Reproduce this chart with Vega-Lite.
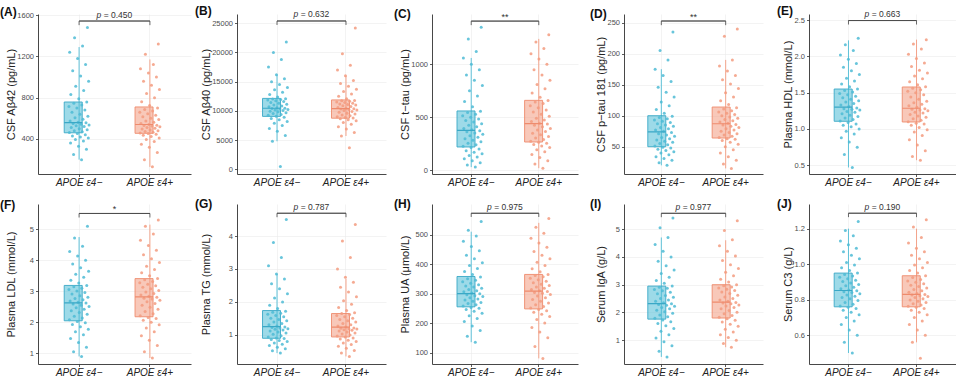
{
"$schema":"https://vega.github.io/schema/vega-lite/v6.json",
"background":"white",
"padding":{"left":0,"top":5,"right":0,"bottom":0},
"columns":5,"align":"each","bounds":"flush","spacing":{"row":30,"column":46},
"datasets":{
"A":[{"g":"n","v":200},{"g":"n","v":250},{"g":"n","v":300},{"g":"n","v":330},{"g":"n","v":360},{"g":"n","v":380},{"g":"n","v":395},{"g":"n","v":410},{"g":"n","v":420},{"g":"n","v":430},{"g":"n","v":440},{"g":"n","v":452},{"g":"n","v":462},{"g":"n","v":470},{"g":"n","v":480},{"g":"n","v":490},{"g":"n","v":500},{"g":"n","v":510},{"g":"n","v":520},{"g":"n","v":528},{"g":"n","v":535},{"g":"n","v":543},{"g":"n","v":550},{"g":"n","v":556},{"g":"n","v":562},{"g":"n","v":575},{"g":"n","v":590},{"g":"n","v":605},{"g":"n","v":620},{"g":"n","v":640},{"g":"n","v":660},{"g":"n","v":680},{"g":"n","v":700},{"g":"n","v":715},{"g":"n","v":730},{"g":"n","v":745},{"g":"n","v":758},{"g":"n","v":790},{"g":"n","v":830},{"g":"n","v":870},{"g":"n","v":910},{"g":"n","v":960},{"g":"n","v":1010},{"g":"n","v":1060},{"g":"n","v":1120},{"g":"n","v":1180},{"g":"n","v":1240},{"g":"n","v":1300},{"g":"n","v":1380},{"g":"n","v":1480},
{"g":"p","v":130},{"g":"p","v":200},{"g":"p","v":270},{"g":"p","v":320},{"g":"p","v":350},{"g":"p","v":375},{"g":"p","v":395},{"g":"p","v":410},{"g":"p","v":425},{"g":"p","v":435},{"g":"p","v":445},{"g":"p","v":452},{"g":"p","v":458},{"g":"p","v":465},{"g":"p","v":472},{"g":"p","v":480},{"g":"p","v":488},{"g":"p","v":496},{"g":"p","v":504},{"g":"p","v":512},{"g":"p","v":519},{"g":"p","v":525},{"g":"p","v":530},{"g":"p","v":534},{"g":"p","v":540},{"g":"p","v":550},{"g":"p","v":562},{"g":"p","v":575},{"g":"p","v":588},{"g":"p","v":600},{"g":"p","v":615},{"g":"p","v":630},{"g":"p","v":645},{"g":"p","v":660},{"g":"p","v":672},{"g":"p","v":686},{"g":"p","v":700},{"g":"p","v":725},{"g":"p","v":760},{"g":"p","v":800},{"g":"p","v":840},{"g":"p","v":880},{"g":"p","v":920},{"g":"p","v":960},{"g":"p","v":1000},{"g":"p","v":1040},{"g":"p","v":1080},{"g":"p","v":1120},{"g":"p","v":1220},{"g":"p","v":1320}],
"B":[{"g":"n","v":500},{"g":"n","v":4800},{"g":"n","v":5800},{"g":"n","v":6500},{"g":"n","v":7000},{"g":"n","v":7500},{"g":"n","v":7900},{"g":"n","v":8200},{"g":"n","v":8500},{"g":"n","v":8700},{"g":"n","v":8900},{"g":"n","v":9100},{"g":"n","v":9250},{"g":"n","v":9400},{"g":"n","v":9550},{"g":"n","v":9700},{"g":"n","v":9850},{"g":"n","v":9950},{"g":"n","v":10050},{"g":"n","v":10150},{"g":"n","v":10250},{"g":"n","v":10330},{"g":"n","v":10400},{"g":"n","v":10450},{"g":"n","v":10550},{"g":"n","v":10700},{"g":"n","v":10850},{"g":"n","v":11000},{"g":"n","v":11150},{"g":"n","v":11300},{"g":"n","v":11450},{"g":"n","v":11600},{"g":"n","v":11750},{"g":"n","v":11850},{"g":"n","v":11950},{"g":"n","v":12050},{"g":"n","v":12100},{"g":"n","v":12400},{"g":"n","v":12800},{"g":"n","v":13200},{"g":"n","v":13600},{"g":"n","v":14000},{"g":"n","v":14500},{"g":"n","v":15000},{"g":"n","v":15500},{"g":"n","v":16200},{"g":"n","v":17500},{"g":"n","v":18800},{"g":"n","v":20000},{"g":"n","v":21800},
{"g":"p","v":3700},{"g":"p","v":5700},{"g":"p","v":6300},{"g":"p","v":6900},{"g":"p","v":7300},{"g":"p","v":7700},{"g":"p","v":8000},{"g":"p","v":8300},{"g":"p","v":8500},{"g":"p","v":8650},{"g":"p","v":8780},{"g":"p","v":8880},{"g":"p","v":9000},{"g":"p","v":9150},{"g":"p","v":9300},{"g":"p","v":9450},{"g":"p","v":9600},{"g":"p","v":9750},{"g":"p","v":9900},{"g":"p","v":10050},{"g":"p","v":10150},{"g":"p","v":10250},{"g":"p","v":10320},{"g":"p","v":10380},{"g":"p","v":10450},{"g":"p","v":10600},{"g":"p","v":10750},{"g":"p","v":10900},{"g":"p","v":11000},{"g":"p","v":11100},{"g":"p","v":11200},{"g":"p","v":11300},{"g":"p","v":11420},{"g":"p","v":11530},{"g":"p","v":11640},{"g":"p","v":11720},{"g":"p","v":11800},{"g":"p","v":12100},{"g":"p","v":12500},{"g":"p","v":12900},{"g":"p","v":13300},{"g":"p","v":13700},{"g":"p","v":14200},{"g":"p","v":14700},{"g":"p","v":15200},{"g":"p","v":16000},{"g":"p","v":17000},{"g":"p","v":17800},{"g":"p","v":19800},{"g":"p","v":24200}],
"C":[{"g":"n","v":30},{"g":"n","v":50},{"g":"n","v":70},{"g":"n","v":90},{"g":"n","v":110},{"g":"n","v":125},{"g":"n","v":140},{"g":"n","v":155},{"g":"n","v":170},{"g":"n","v":185},{"g":"n","v":200},{"g":"n","v":215},{"g":"n","v":228},{"g":"n","v":242},{"g":"n","v":256},{"g":"n","v":270},{"g":"n","v":284},{"g":"n","v":298},{"g":"n","v":312},{"g":"n","v":326},{"g":"n","v":340},{"g":"n","v":352},{"g":"n","v":364},{"g":"n","v":374},{"g":"n","v":382},{"g":"n","v":395},{"g":"n","v":410},{"g":"n","v":425},{"g":"n","v":440},{"g":"n","v":455},{"g":"n","v":470},{"g":"n","v":485},{"g":"n","v":500},{"g":"n","v":515},{"g":"n","v":530},{"g":"n","v":545},{"g":"n","v":558},{"g":"n","v":600},{"g":"n","v":650},{"g":"n","v":700},{"g":"n","v":750},{"g":"n","v":800},{"g":"n","v":850},{"g":"n","v":900},{"g":"n","v":950},{"g":"n","v":1000},{"g":"n","v":1060},{"g":"n","v":1120},{"g":"n","v":1240},{"g":"n","v":1350},
{"g":"p","v":20},{"g":"p","v":60},{"g":"p","v":90},{"g":"p","v":120},{"g":"p","v":150},{"g":"p","v":175},{"g":"p","v":195},{"g":"p","v":215},{"g":"p","v":230},{"g":"p","v":243},{"g":"p","v":255},{"g":"p","v":265},{"g":"p","v":275},{"g":"p","v":290},{"g":"p","v":305},{"g":"p","v":320},{"g":"p","v":335},{"g":"p","v":350},{"g":"p","v":365},{"g":"p","v":380},{"g":"p","v":395},{"g":"p","v":410},{"g":"p","v":425},{"g":"p","v":437},{"g":"p","v":445},{"g":"p","v":460},{"g":"p","v":475},{"g":"p","v":490},{"g":"p","v":510},{"g":"p","v":530},{"g":"p","v":550},{"g":"p","v":570},{"g":"p","v":590},{"g":"p","v":610},{"g":"p","v":630},{"g":"p","v":645},{"g":"p","v":658},{"g":"p","v":690},{"g":"p","v":730},{"g":"p","v":770},{"g":"p","v":810},{"g":"p","v":850},{"g":"p","v":900},{"g":"p","v":950},{"g":"p","v":1000},{"g":"p","v":1050},{"g":"p","v":1100},{"g":"p","v":1150},{"g":"p","v":1210},{"g":"p","v":1280}],
"D":[{"g":"n","v":20},{"g":"n","v":24},{"g":"n","v":28},{"g":"n","v":31},{"g":"n","v":34},{"g":"n","v":37},{"g":"n","v":40},{"g":"n","v":42},{"g":"n","v":44},{"g":"n","v":46},{"g":"n","v":48},{"g":"n","v":49},{"g":"n","v":51},{"g":"n","v":53},{"g":"n","v":55},{"g":"n","v":57},{"g":"n","v":59},{"g":"n","v":61},{"g":"n","v":63},{"g":"n","v":65},{"g":"n","v":67},{"g":"n","v":69},{"g":"n","v":71},{"g":"n","v":73},{"g":"n","v":75},{"g":"n","v":77},{"g":"n","v":79},{"g":"n","v":81},{"g":"n","v":83},{"g":"n","v":85},{"g":"n","v":87},{"g":"n","v":89},{"g":"n","v":91},{"g":"n","v":93},{"g":"n","v":95},{"g":"n","v":97},{"g":"n","v":99},{"g":"n","v":104},{"g":"n","v":110},{"g":"n","v":116},{"g":"n","v":122},{"g":"n","v":130},{"g":"n","v":138},{"g":"n","v":146},{"g":"n","v":155},{"g":"n","v":165},{"g":"n","v":175},{"g":"n","v":190},{"g":"n","v":205},{"g":"n","v":235},
{"g":"p","v":15},{"g":"p","v":22},{"g":"p","v":28},{"g":"p","v":34},{"g":"p","v":40},{"g":"p","v":45},{"g":"p","v":50},{"g":"p","v":54},{"g":"p","v":57},{"g":"p","v":60},{"g":"p","v":62},{"g":"p","v":63},{"g":"p","v":65},{"g":"p","v":67},{"g":"p","v":69},{"g":"p","v":71},{"g":"p","v":73},{"g":"p","v":75},{"g":"p","v":77},{"g":"p","v":79},{"g":"p","v":81},{"g":"p","v":83},{"g":"p","v":85},{"g":"p","v":86},{"g":"p","v":88},{"g":"p","v":90},{"g":"p","v":92},{"g":"p","v":94},{"g":"p","v":96},{"g":"p","v":98},{"g":"p","v":100},{"g":"p","v":102},{"g":"p","v":104},{"g":"p","v":106},{"g":"p","v":108},{"g":"p","v":111},{"g":"p","v":113},{"g":"p","v":118},{"g":"p","v":124},{"g":"p","v":130},{"g":"p","v":137},{"g":"p","v":144},{"g":"p","v":151},{"g":"p","v":158},{"g":"p","v":165},{"g":"p","v":172},{"g":"p","v":180},{"g":"p","v":190},{"g":"p","v":228},{"g":"p","v":240}],
"E":[{"g":"n","v":0.47},{"g":"n","v":0.65},{"g":"n","v":0.75},{"g":"n","v":0.82},{"g":"n","v":0.88},{"g":"n","v":0.93},{"g":"n","v":0.97},{"g":"n","v":1.0},{"g":"n","v":1.03},{"g":"n","v":1.05},{"g":"n","v":1.07},{"g":"n","v":1.09},{"g":"n","v":1.11},{"g":"n","v":1.13},{"g":"n","v":1.15},{"g":"n","v":1.17},{"g":"n","v":1.19},{"g":"n","v":1.21},{"g":"n","v":1.23},{"g":"n","v":1.24},{"g":"n","v":1.26},{"g":"n","v":1.27},{"g":"n","v":1.28},{"g":"n","v":1.29},{"g":"n","v":1.31},{"g":"n","v":1.33},{"g":"n","v":1.35},{"g":"n","v":1.37},{"g":"n","v":1.39},{"g":"n","v":1.41},{"g":"n","v":1.43},{"g":"n","v":1.45},{"g":"n","v":1.47},{"g":"n","v":1.49},{"g":"n","v":1.51},{"g":"n","v":1.53},{"g":"n","v":1.55},{"g":"n","v":1.58},{"g":"n","v":1.62},{"g":"n","v":1.66},{"g":"n","v":1.7},{"g":"n","v":1.75},{"g":"n","v":1.8},{"g":"n","v":1.85},{"g":"n","v":1.9},{"g":"n","v":1.96},{"g":"n","v":2.02},{"g":"n","v":2.08},{"g":"n","v":2.16},{"g":"n","v":2.25},
{"g":"p","v":0.57},{"g":"p","v":0.62},{"g":"p","v":0.7},{"g":"p","v":0.78},{"g":"p","v":0.85},{"g":"p","v":0.91},{"g":"p","v":0.96},{"g":"p","v":0.99},{"g":"p","v":1.02},{"g":"p","v":1.05},{"g":"p","v":1.07},{"g":"p","v":1.08},{"g":"p","v":1.1},{"g":"p","v":1.12},{"g":"p","v":1.14},{"g":"p","v":1.16},{"g":"p","v":1.18},{"g":"p","v":1.2},{"g":"p","v":1.22},{"g":"p","v":1.23},{"g":"p","v":1.25},{"g":"p","v":1.26},{"g":"p","v":1.27},{"g":"p","v":1.28},{"g":"p","v":1.3},{"g":"p","v":1.32},{"g":"p","v":1.34},{"g":"p","v":1.36},{"g":"p","v":1.38},{"g":"p","v":1.41},{"g":"p","v":1.44},{"g":"p","v":1.47},{"g":"p","v":1.5},{"g":"p","v":1.52},{"g":"p","v":1.54},{"g":"p","v":1.56},{"g":"p","v":1.58},{"g":"p","v":1.61},{"g":"p","v":1.65},{"g":"p","v":1.69},{"g":"p","v":1.73},{"g":"p","v":1.77},{"g":"p","v":1.81},{"g":"p","v":1.86},{"g":"p","v":1.91},{"g":"p","v":1.97},{"g":"p","v":2.03},{"g":"p","v":2.1},{"g":"p","v":2.17},{"g":"p","v":2.23}],
"F":[{"g":"n","v":0.9},{"g":"n","v":1.05},{"g":"n","v":1.2},{"g":"n","v":1.35},{"g":"n","v":1.48},{"g":"n","v":1.6},{"g":"n","v":1.7},{"g":"n","v":1.78},{"g":"n","v":1.86},{"g":"n","v":1.93},{"g":"n","v":1.99},{"g":"n","v":2.03},{"g":"n","v":2.08},{"g":"n","v":2.14},{"g":"n","v":2.2},{"g":"n","v":2.26},{"g":"n","v":2.32},{"g":"n","v":2.37},{"g":"n","v":2.42},{"g":"n","v":2.47},{"g":"n","v":2.51},{"g":"n","v":2.55},{"g":"n","v":2.59},{"g":"n","v":2.62},{"g":"n","v":2.65},{"g":"n","v":2.69},{"g":"n","v":2.73},{"g":"n","v":2.77},{"g":"n","v":2.81},{"g":"n","v":2.86},{"g":"n","v":2.91},{"g":"n","v":2.96},{"g":"n","v":3.01},{"g":"n","v":3.06},{"g":"n","v":3.1},{"g":"n","v":3.15},{"g":"n","v":3.19},{"g":"n","v":3.27},{"g":"n","v":3.36},{"g":"n","v":3.45},{"g":"n","v":3.55},{"g":"n","v":3.65},{"g":"n","v":3.76},{"g":"n","v":3.88},{"g":"n","v":4.0},{"g":"n","v":4.14},{"g":"n","v":4.28},{"g":"n","v":4.45},{"g":"n","v":4.72},{"g":"n","v":5.1},
{"g":"p","v":0.85},{"g":"p","v":1.05},{"g":"p","v":1.25},{"g":"p","v":1.42},{"g":"p","v":1.57},{"g":"p","v":1.7},{"g":"p","v":1.82},{"g":"p","v":1.92},{"g":"p","v":2.0},{"g":"p","v":2.07},{"g":"p","v":2.12},{"g":"p","v":2.16},{"g":"p","v":2.21},{"g":"p","v":2.28},{"g":"p","v":2.35},{"g":"p","v":2.42},{"g":"p","v":2.49},{"g":"p","v":2.55},{"g":"p","v":2.61},{"g":"p","v":2.66},{"g":"p","v":2.71},{"g":"p","v":2.75},{"g":"p","v":2.78},{"g":"p","v":2.81},{"g":"p","v":2.84},{"g":"p","v":2.88},{"g":"p","v":2.93},{"g":"p","v":2.98},{"g":"p","v":3.03},{"g":"p","v":3.08},{"g":"p","v":3.13},{"g":"p","v":3.18},{"g":"p","v":3.23},{"g":"p","v":3.28},{"g":"p","v":3.32},{"g":"p","v":3.37},{"g":"p","v":3.41},{"g":"p","v":3.5},{"g":"p","v":3.6},{"g":"p","v":3.7},{"g":"p","v":3.81},{"g":"p","v":3.93},{"g":"p","v":4.05},{"g":"p","v":4.18},{"g":"p","v":4.32},{"g":"p","v":4.48},{"g":"p","v":4.65},{"g":"p","v":4.85},{"g":"p","v":5.1},{"g":"p","v":5.3}],
"G":[{"g":"n","v":0.45},{"g":"n","v":0.52},{"g":"n","v":0.58},{"g":"n","v":0.63},{"g":"n","v":0.68},{"g":"n","v":0.72},{"g":"n","v":0.76},{"g":"n","v":0.8},{"g":"n","v":0.83},{"g":"n","v":0.86},{"g":"n","v":0.89},{"g":"n","v":0.91},{"g":"n","v":0.94},{"g":"n","v":0.98},{"g":"n","v":1.02},{"g":"n","v":1.06},{"g":"n","v":1.09},{"g":"n","v":1.12},{"g":"n","v":1.15},{"g":"n","v":1.17},{"g":"n","v":1.19},{"g":"n","v":1.21},{"g":"n","v":1.23},{"g":"n","v":1.24},{"g":"n","v":1.27},{"g":"n","v":1.31},{"g":"n","v":1.35},{"g":"n","v":1.39},{"g":"n","v":1.43},{"g":"n","v":1.47},{"g":"n","v":1.51},{"g":"n","v":1.55},{"g":"n","v":1.59},{"g":"n","v":1.63},{"g":"n","v":1.66},{"g":"n","v":1.69},{"g":"n","v":1.72},{"g":"n","v":1.8},{"g":"n","v":1.9},{"g":"n","v":2.0},{"g":"n","v":2.12},{"g":"n","v":2.25},{"g":"n","v":2.4},{"g":"n","v":2.55},{"g":"n","v":2.7},{"g":"n","v":2.85},{"g":"n","v":3.1},{"g":"n","v":3.35},{"g":"n","v":3.8},{"g":"n","v":4.5},
{"g":"p","v":0.35},{"g":"p","v":0.45},{"g":"p","v":0.53},{"g":"p","v":0.6},{"g":"p","v":0.66},{"g":"p","v":0.71},{"g":"p","v":0.76},{"g":"p","v":0.8},{"g":"p","v":0.84},{"g":"p","v":0.88},{"g":"p","v":0.91},{"g":"p","v":0.94},{"g":"p","v":0.97},{"g":"p","v":1.0},{"g":"p","v":1.03},{"g":"p","v":1.06},{"g":"p","v":1.09},{"g":"p","v":1.12},{"g":"p","v":1.14},{"g":"p","v":1.16},{"g":"p","v":1.18},{"g":"p","v":1.19},{"g":"p","v":1.2},{"g":"p","v":1.21},{"g":"p","v":1.24},{"g":"p","v":1.27},{"g":"p","v":1.31},{"g":"p","v":1.35},{"g":"p","v":1.39},{"g":"p","v":1.43},{"g":"p","v":1.47},{"g":"p","v":1.51},{"g":"p","v":1.55},{"g":"p","v":1.59},{"g":"p","v":1.62},{"g":"p","v":1.65},{"g":"p","v":1.67},{"g":"p","v":1.74},{"g":"p","v":1.83},{"g":"p","v":1.93},{"g":"p","v":2.04},{"g":"p","v":2.16},{"g":"p","v":2.3},{"g":"p","v":2.45},{"g":"p","v":2.6},{"g":"p","v":2.75},{"g":"p","v":3.0},{"g":"p","v":3.35},{"g":"p","v":3.85},{"g":"p","v":4.35}],
"H":[{"g":"n","v":135},{"g":"n","v":155},{"g":"n","v":175},{"g":"n","v":190},{"g":"n","v":205},{"g":"n","v":215},{"g":"n","v":225},{"g":"n","v":233},{"g":"n","v":240},{"g":"n","v":246},{"g":"n","v":250},{"g":"n","v":253},{"g":"n","v":258},{"g":"n","v":262},{"g":"n","v":266},{"g":"n","v":270},{"g":"n","v":274},{"g":"n","v":278},{"g":"n","v":282},{"g":"n","v":286},{"g":"n","v":290},{"g":"n","v":293},{"g":"n","v":296},{"g":"n","v":299},{"g":"n","v":302},{"g":"n","v":306},{"g":"n","v":310},{"g":"n","v":314},{"g":"n","v":318},{"g":"n","v":322},{"g":"n","v":326},{"g":"n","v":330},{"g":"n","v":335},{"g":"n","v":340},{"g":"n","v":345},{"g":"n","v":350},{"g":"n","v":356},{"g":"n","v":365},{"g":"n","v":375},{"g":"n","v":385},{"g":"n","v":395},{"g":"n","v":405},{"g":"n","v":418},{"g":"n","v":430},{"g":"n","v":445},{"g":"n","v":460},{"g":"n","v":478},{"g":"n","v":495},{"g":"n","v":515},{"g":"n","v":545},
{"g":"p","v":80},{"g":"p","v":120},{"g":"p","v":150},{"g":"p","v":170},{"g":"p","v":185},{"g":"p","v":200},{"g":"p","v":212},{"g":"p","v":222},{"g":"p","v":230},{"g":"p","v":237},{"g":"p","v":242},{"g":"p","v":246},{"g":"p","v":251},{"g":"p","v":256},{"g":"p","v":262},{"g":"p","v":268},{"g":"p","v":274},{"g":"p","v":280},{"g":"p","v":286},{"g":"p","v":292},{"g":"p","v":297},{"g":"p","v":301},{"g":"p","v":304},{"g":"p","v":307},{"g":"p","v":310},{"g":"p","v":314},{"g":"p","v":318},{"g":"p","v":322},{"g":"p","v":327},{"g":"p","v":332},{"g":"p","v":337},{"g":"p","v":342},{"g":"p","v":347},{"g":"p","v":352},{"g":"p","v":357},{"g":"p","v":361},{"g":"p","v":365},{"g":"p","v":374},{"g":"p","v":384},{"g":"p","v":395},{"g":"p","v":406},{"g":"p","v":418},{"g":"p","v":430},{"g":"p","v":443},{"g":"p","v":457},{"g":"p","v":472},{"g":"p","v":488},{"g":"p","v":505},{"g":"p","v":525},{"g":"p","v":555}],
"I":[{"g":"n","v":0.4},{"g":"n","v":0.6},{"g":"n","v":0.8},{"g":"n","v":0.95},{"g":"n","v":1.08},{"g":"n","v":1.2},{"g":"n","v":1.32},{"g":"n","v":1.42},{"g":"n","v":1.52},{"g":"n","v":1.6},{"g":"n","v":1.67},{"g":"n","v":1.73},{"g":"n","v":1.79},{"g":"n","v":1.85},{"g":"n","v":1.91},{"g":"n","v":1.97},{"g":"n","v":2.03},{"g":"n","v":2.08},{"g":"n","v":2.13},{"g":"n","v":2.18},{"g":"n","v":2.22},{"g":"n","v":2.26},{"g":"n","v":2.29},{"g":"n","v":2.31},{"g":"n","v":2.35},{"g":"n","v":2.4},{"g":"n","v":2.45},{"g":"n","v":2.5},{"g":"n","v":2.55},{"g":"n","v":2.61},{"g":"n","v":2.67},{"g":"n","v":2.73},{"g":"n","v":2.78},{"g":"n","v":2.83},{"g":"n","v":2.87},{"g":"n","v":2.91},{"g":"n","v":2.95},{"g":"n","v":3.05},{"g":"n","v":3.15},{"g":"n","v":3.27},{"g":"n","v":3.4},{"g":"n","v":3.53},{"g":"n","v":3.68},{"g":"n","v":3.84},{"g":"n","v":4.0},{"g":"n","v":4.2},{"g":"n","v":4.45},{"g":"n","v":4.7},{"g":"n","v":5.05},{"g":"n","v":5.4},
{"g":"p","v":0.75},{"g":"p","v":0.88},{"g":"p","v":1.0},{"g":"p","v":1.1},{"g":"p","v":1.2},{"g":"p","v":1.3},{"g":"p","v":1.4},{"g":"p","v":1.5},{"g":"p","v":1.58},{"g":"p","v":1.66},{"g":"p","v":1.72},{"g":"p","v":1.77},{"g":"p","v":1.83},{"g":"p","v":1.89},{"g":"p","v":1.95},{"g":"p","v":2.01},{"g":"p","v":2.07},{"g":"p","v":2.13},{"g":"p","v":2.18},{"g":"p","v":2.23},{"g":"p","v":2.27},{"g":"p","v":2.31},{"g":"p","v":2.34},{"g":"p","v":2.36},{"g":"p","v":2.4},{"g":"p","v":2.45},{"g":"p","v":2.5},{"g":"p","v":2.56},{"g":"p","v":2.62},{"g":"p","v":2.68},{"g":"p","v":2.74},{"g":"p","v":2.79},{"g":"p","v":2.84},{"g":"p","v":2.88},{"g":"p","v":2.92},{"g":"p","v":2.96},{"g":"p","v":3.0},{"g":"p","v":3.1},{"g":"p","v":3.2},{"g":"p","v":3.32},{"g":"p","v":3.45},{"g":"p","v":3.58},{"g":"p","v":3.72},{"g":"p","v":3.87},{"g":"p","v":4.03},{"g":"p","v":4.2},{"g":"p","v":4.4},{"g":"p","v":4.62},{"g":"p","v":4.95},{"g":"p","v":5.3}],
"J":[{"g":"n","v":0.5},{"g":"n","v":0.56},{"g":"n","v":0.6},{"g":"n","v":0.63},{"g":"n","v":0.66},{"g":"n","v":0.68},{"g":"n","v":0.7},{"g":"n","v":0.715},{"g":"n","v":0.73},{"g":"n","v":0.74},{"g":"n","v":0.75},{"g":"n","v":0.758},{"g":"n","v":0.765},{"g":"n","v":0.775},{"g":"n","v":0.785},{"g":"n","v":0.795},{"g":"n","v":0.805},{"g":"n","v":0.813},{"g":"n","v":0.82},{"g":"n","v":0.827},{"g":"n","v":0.834},{"g":"n","v":0.84},{"g":"n","v":0.845},{"g":"n","v":0.85},{"g":"n","v":0.855},{"g":"n","v":0.862},{"g":"n","v":0.87},{"g":"n","v":0.878},{"g":"n","v":0.886},{"g":"n","v":0.894},{"g":"n","v":0.902},{"g":"n","v":0.91},{"g":"n","v":0.918},{"g":"n","v":0.926},{"g":"n","v":0.934},{"g":"n","v":0.942},{"g":"n","v":0.95},{"g":"n","v":0.965},{"g":"n","v":0.98},{"g":"n","v":0.995},{"g":"n","v":1.01},{"g":"n","v":1.03},{"g":"n","v":1.05},{"g":"n","v":1.07},{"g":"n","v":1.09},{"g":"n","v":1.11},{"g":"n","v":1.13},{"g":"n","v":1.16},{"g":"n","v":1.19},{"g":"n","v":1.24},
{"g":"p","v":0.47},{"g":"p","v":0.56},{"g":"p","v":0.6},{"g":"p","v":0.63},{"g":"p","v":0.66},{"g":"p","v":0.68},{"g":"p","v":0.7},{"g":"p","v":0.715},{"g":"p","v":0.73},{"g":"p","v":0.74},{"g":"p","v":0.75},{"g":"p","v":0.757},{"g":"p","v":0.763},{"g":"p","v":0.77},{"g":"p","v":0.777},{"g":"p","v":0.784},{"g":"p","v":0.791},{"g":"p","v":0.798},{"g":"p","v":0.805},{"g":"p","v":0.812},{"g":"p","v":0.818},{"g":"p","v":0.823},{"g":"p","v":0.827},{"g":"p","v":0.83},{"g":"p","v":0.835},{"g":"p","v":0.842},{"g":"p","v":0.85},{"g":"p","v":0.858},{"g":"p","v":0.866},{"g":"p","v":0.874},{"g":"p","v":0.882},{"g":"p","v":0.89},{"g":"p","v":0.898},{"g":"p","v":0.906},{"g":"p","v":0.914},{"g":"p","v":0.925},{"g":"p","v":0.935},{"g":"p","v":0.95},{"g":"p","v":0.965},{"g":"p","v":0.98},{"g":"p","v":0.995},{"g":"p","v":1.01},{"g":"p","v":1.03},{"g":"p","v":1.05},{"g":"p","v":1.07},{"g":"p","v":1.09},{"g":"p","v":1.12},{"g":"p","v":1.15},{"g":"p","v":1.21},{"g":"p","v":1.25}],
"S":[{"k":"A","g":"n","lo":200,"q1":460,"med":558,"q3":758,"hi":1290},{"k":"A","g":"p","lo":130,"q1":455,"med":540,"q3":710,"hi":1170},
{"k":"B","g":"n","lo":4800,"q1":9060,"med":10450,"q3":12140,"hi":16200},{"k":"B","g":"p","lo":5700,"q1":8750,"med":10390,"q3":11880,"hi":16000},
{"k":"C","g":"n","lo":30,"q1":220,"med":377,"q3":560,"hi":1060},{"k":"C","g":"p","lo":20,"q1":267,"med":440,"q3":660,"hi":1240},
{"k":"D","g":"n","lo":20,"q1":50,"med":74,"q3":100,"hi":175},{"k":"D","g":"p","lo":15,"q1":64,"med":87,"q3":114,"hi":190},
{"k":"E","g":"n","lo":0.47,"q1":1.106,"med":1.3,"q3":1.55,"hi":2.22},{"k":"E","g":"p","lo":0.57,"q1":1.096,"med":1.285,"q3":1.578,"hi":2.23},
{"k":"F","g":"n","lo":0.9,"q1":2.05,"med":2.63,"q3":3.19,"hi":4.75},{"k":"F","g":"p","lo":0.85,"q1":2.18,"med":2.82,"q3":3.41,"hi":5.15},
{"k":"G","g":"n","lo":0.45,"q1":0.9,"med":1.25,"q3":1.74,"hi":2.85},{"k":"G","g":"p","lo":0.35,"q1":0.94,"med":1.24,"q3":1.65,"hi":2.7},
{"k":"H","g":"n","lo":135,"q1":255,"med":300,"q3":358,"hi":510},{"k":"H","g":"p","lo":80,"q1":248,"med":308,"q3":365,"hi":540},
{"k":"I","g":"n","lo":0.4,"q1":1.76,"med":2.32,"q3":2.95,"hi":4.7},{"k":"I","g":"p","lo":0.75,"q1":1.8,"med":2.37,"q3":3.0,"hi":4.6},
{"k":"J","g":"n","lo":0.5,"q1":0.76,"med":0.852,"q3":0.95,"hi":1.2},{"k":"J","g":"p","lo":0.56,"q1":0.76,"med":0.83,"q3":0.935,"hi":1.2}],
"K":[{"k":"A","g":"n","b":1542,"blo":1502,"t":"= 0.450"},{"k":"A","g":"p","b":1542,"blo":1502,"t":"= 0.450"},
{"k":"B","g":"n","b":25394,"blo":24710,"t":"= 0.632"},{"k":"B","g":"p","b":25394,"blo":24710,"t":"= 0.632"},
{"k":"C","g":"n","b":1408,"blo":1370,"t":"**"},{"k":"C","g":"p","b":1408,"blo":1370,"t":"**"},
{"k":"D","g":"n","b":252.7,"blo":246,"t":"**"},{"k":"D","g":"p","b":252.7,"blo":246,"t":"**"},
{"k":"E","g":"n","b":2.493,"blo":2.438,"t":"= 0.663"},{"k":"E","g":"p","b":2.493,"blo":2.438,"t":"= 0.663"},
{"k":"F","g":"n","b":5.51,"blo":5.38,"t":"*"},{"k":"F","g":"p","b":5.51,"blo":5.38,"t":"*"},
{"k":"G","g":"n","b":4.69,"blo":4.57,"t":"= 0.787"},{"k":"G","g":"p","b":4.69,"blo":4.57,"t":"= 0.787"},
{"k":"H","g":"n","b":572.6,"blo":560,"t":"= 0.975"},{"k":"H","g":"p","b":572.6,"blo":560,"t":"= 0.975"},
{"k":"I","g":"n","b":5.57,"blo":5.43,"t":"= 0.977"},{"k":"I","g":"p","b":5.57,"blo":5.43,"t":"= 0.977"},
{"k":"J","g":"n","b":1.287,"blo":1.265,"t":"= 0.190"},{"k":"J","g":"p","b":1.287,"blo":1.265,"t":"= 0.190"}]
},
"concat":[
{"width":153,"height":160,"title":"(A)","data":{"name":"A"},"layer":[
{"data":{"name":"S"},"transform":[{"filter":"datum.k=='A'"}],"mark":{"type":"rule","strokeWidth":0.9},"encoding":{"x":{"field":"g","type":"nominal"},"y":{"field":"lo","type":"quantitative"},"y2":{"field":"hi"},"color":{"field":"g","type":"nominal","legend":null}}},
{"data":{"name":"S"},"transform":[{"filter":"datum.k=='A'"}],"mark":{"type":"bar","width":{"band":0.42},"fillOpacity":0.55,"strokeWidth":0.9},"encoding":{"x":{"field":"g","type":"nominal"},"y":{"field":"q1","type":"quantitative"},"y2":{"field":"q3"},"color":{"field":"g","type":"nominal","legend":null},"stroke":{"field":"g","type":"nominal","legend":null,"scale":{"range":["#3AA8C6","#EE8B6D"]}}}},
{"transform":[{"window":[{"op":"row_number","as":"rn"}],"groupby":["g"]},{"calculate":"((datum.rn*0.618034)%1)-0.5","as":"j"}],"mark":{"type":"circle","size":9,"opacity":0.85},"encoding":{"x":{"field":"g","type":"nominal","scale":{"paddingInner":0,"paddingOuter":0.08},"axis":{"title":null,"labelExpr":"datum.value=='n'?'APOE ε4−':'APOE ε4+'"}},"xOffset":{"field":"j","type":"quantitative","scale":{"domain":[-1.7,1.7]}},"y":{"field":"v","type":"quantitative","scale":{"domain":[61,1610],"nice":false,"zero":false},"axis":{"title":"CSF Aβ42 (pg/mL)","values":[400,800,1200,1600],"tickCount":10,"labelOverlap":false,"format":"d","minExtent":21,"maxExtent":21}},"color":{"field":"g","type":"nominal","legend":null,"scale":{"domain":["n","p"],"range":["#4DBBD5","#F39B7F"]}}}},
{"data":{"name":"S"},"transform":[{"filter":"datum.k=='A'"}],"mark":{"type":"bar","width":{"band":0.42},"fillOpacity":0,"strokeWidth":1.2},"encoding":{"x":{"field":"g","type":"nominal"},"y":{"field":"med","type":"quantitative"},"y2":{"field":"med"},"stroke":{"field":"g","type":"nominal","legend":null}}},
{"data":{"name":"K"},"transform":[{"filter":"datum.k=='A'"}],"mark":{"type":"rule"},"encoding":{"x":{"datum":"n"},"x2":{"datum":"p"},"y":{"field":"b","type":"quantitative"}}},
{"data":{"name":"K"},"transform":[{"filter":"datum.k=='A'"}],"mark":{"type":"rule"},"encoding":{"x":{"field":"g","type":"nominal"},"y":{"field":"b","type":"quantitative"},"y2":{"field":"blo"}}},
{"data":{"name":"K"},"transform":[{"filter":"datum.k=='A'&&datum.g=='n'"}],"mark":{"type":"text","text":"p","fontStyle":"italic","align":"left","baseline":"bottom","dx":-17.9,"dy":-1.5},"encoding":{"x":{"datum":"p","bandPosition":0},"y":{"field":"b","type":"quantitative"}}},
{"data":{"name":"K"},"transform":[{"filter":"datum.k=='A'&&datum.g=='n'"}],"mark":{"type":"text","align":"left","baseline":"bottom","dx":-10.8,"dy":-1.5},"encoding":{"x":{"datum":"p","bandPosition":0},"y":{"field":"b","type":"quantitative"},"text":{"field":"t","type":"nominal"}}}
]},
{"width":149,"height":160,"title":"(B)","data":{"name":"B"},"layer":[
{"data":{"name":"S"},"transform":[{"filter":"datum.k=='B'"}],"mark":{"type":"rule","strokeWidth":0.9},"encoding":{"x":{"field":"g","type":"nominal"},"y":{"field":"lo","type":"quantitative"},"y2":{"field":"hi"},"color":{"field":"g","type":"nominal","legend":null}}},
{"data":{"name":"S"},"transform":[{"filter":"datum.k=='B'"}],"mark":{"type":"bar","width":{"band":0.42},"fillOpacity":0.55,"strokeWidth":0.9},"encoding":{"x":{"field":"g","type":"nominal"},"y":{"field":"q1","type":"quantitative"},"y2":{"field":"q3"},"color":{"field":"g","type":"nominal","legend":null},"stroke":{"field":"g","type":"nominal","legend":null,"scale":{"range":["#3AA8C6","#EE8B6D"]}}}},
{"transform":[{"window":[{"op":"row_number","as":"rn"}],"groupby":["g"]},{"calculate":"((datum.rn*0.618034)%1)-0.5","as":"j"}],"mark":{"type":"circle","size":9,"opacity":0.85},"encoding":{"x":{"field":"g","type":"nominal","scale":{"paddingInner":0,"paddingOuter":0.08},"axis":{"title":null,"labelExpr":"datum.value=='n'?'APOE ε4−':'APOE ε4+'"}},"xOffset":{"field":"j","type":"quantitative","scale":{"domain":[-1.7,1.7]}},"y":{"field":"v","type":"quantitative","scale":{"domain":[-805,26590],"nice":false,"zero":false},"axis":{"title":"CSF Aβ40 (pg/mL)","values":[0,5000,10000,15000,20000,25000],"tickCount":10,"labelOverlap":false,"format":"d","minExtent":25,"maxExtent":25}},"color":{"field":"g","type":"nominal","legend":null,"scale":{"domain":["n","p"],"range":["#4DBBD5","#F39B7F"]}}}},
{"data":{"name":"S"},"transform":[{"filter":"datum.k=='B'"}],"mark":{"type":"bar","width":{"band":0.42},"fillOpacity":0,"strokeWidth":1.2},"encoding":{"x":{"field":"g","type":"nominal"},"y":{"field":"med","type":"quantitative"},"y2":{"field":"med"},"stroke":{"field":"g","type":"nominal","legend":null}}},
{"data":{"name":"K"},"transform":[{"filter":"datum.k=='B'"}],"mark":{"type":"rule"},"encoding":{"x":{"datum":"n"},"x2":{"datum":"p"},"y":{"field":"b","type":"quantitative"}}},
{"data":{"name":"K"},"transform":[{"filter":"datum.k=='B'"}],"mark":{"type":"rule"},"encoding":{"x":{"field":"g","type":"nominal"},"y":{"field":"b","type":"quantitative"},"y2":{"field":"blo"}}},
{"data":{"name":"K"},"transform":[{"filter":"datum.k=='B'&&datum.g=='n'"}],"mark":{"type":"text","text":"p","fontStyle":"italic","align":"left","baseline":"bottom","dx":-17.9,"dy":-1.5},"encoding":{"x":{"datum":"p","bandPosition":0},"y":{"field":"b","type":"quantitative"}}},
{"data":{"name":"K"},"transform":[{"filter":"datum.k=='B'&&datum.g=='n'"}],"mark":{"type":"text","align":"left","baseline":"bottom","dx":-10.8,"dy":-1.5},"encoding":{"x":{"datum":"p","bandPosition":0},"y":{"field":"b","type":"quantitative"},"text":{"field":"t","type":"nominal"}}}
]},
{"width":146,"height":160,"title":"(C)","data":{"name":"C"},"layer":[
{"data":{"name":"S"},"transform":[{"filter":"datum.k=='C'"}],"mark":{"type":"rule","strokeWidth":0.9},"encoding":{"x":{"field":"g","type":"nominal"},"y":{"field":"lo","type":"quantitative"},"y2":{"field":"hi"},"color":{"field":"g","type":"nominal","legend":null}}},
{"data":{"name":"S"},"transform":[{"filter":"datum.k=='C'"}],"mark":{"type":"bar","width":{"band":0.42},"fillOpacity":0.55,"strokeWidth":0.9},"encoding":{"x":{"field":"g","type":"nominal"},"y":{"field":"q1","type":"quantitative"},"y2":{"field":"q3"},"color":{"field":"g","type":"nominal","legend":null},"stroke":{"field":"g","type":"nominal","legend":null,"scale":{"range":["#3AA8C6","#EE8B6D"]}}}},
{"transform":[{"window":[{"op":"row_number","as":"rn"}],"groupby":["g"]},{"calculate":"((datum.rn*0.618034)%1)-0.5","as":"j"}],"mark":{"type":"circle","size":9,"opacity":0.85},"encoding":{"x":{"field":"g","type":"nominal","scale":{"paddingInner":0,"paddingOuter":0.08},"axis":{"title":null,"labelExpr":"datum.value=='n'?'APOE ε4−':'APOE ε4+'"}},"xOffset":{"field":"j","type":"quantitative","scale":{"domain":[-1.7,1.7]}},"y":{"field":"v","type":"quantitative","scale":{"domain":[-35,1475],"nice":false,"zero":false},"axis":{"title":"CSF t−tau (pg/mL)","values":[0,500,1000],"tickCount":10,"labelOverlap":false,"format":"d","minExtent":21,"maxExtent":21}},"color":{"field":"g","type":"nominal","legend":null,"scale":{"domain":["n","p"],"range":["#4DBBD5","#F39B7F"]}}}},
{"data":{"name":"S"},"transform":[{"filter":"datum.k=='C'"}],"mark":{"type":"bar","width":{"band":0.42},"fillOpacity":0,"strokeWidth":1.2},"encoding":{"x":{"field":"g","type":"nominal"},"y":{"field":"med","type":"quantitative"},"y2":{"field":"med"},"stroke":{"field":"g","type":"nominal","legend":null}}},
{"data":{"name":"K"},"transform":[{"filter":"datum.k=='C'"}],"mark":{"type":"rule"},"encoding":{"x":{"datum":"n"},"x2":{"datum":"p"},"y":{"field":"b","type":"quantitative"}}},
{"data":{"name":"K"},"transform":[{"filter":"datum.k=='C'"}],"mark":{"type":"rule"},"encoding":{"x":{"field":"g","type":"nominal"},"y":{"field":"b","type":"quantitative"},"y2":{"field":"blo"}}},
{"data":{"name":"K"},"transform":[{"filter":"datum.k=='C'&&datum.g=='n'"}],"mark":{"type":"text","align":"center","baseline":"bottom","fontSize":9,"dy":1},"encoding":{"x":{"datum":"p","bandPosition":0},"y":{"field":"b","type":"quantitative"},"text":{"field":"t","type":"nominal"}}}
]},
{"width":139,"height":160,"title":"(D)","data":{"name":"D"},"layer":[
{"data":{"name":"S"},"transform":[{"filter":"datum.k=='D'"}],"mark":{"type":"rule","strokeWidth":0.9},"encoding":{"x":{"field":"g","type":"nominal"},"y":{"field":"lo","type":"quantitative"},"y2":{"field":"hi"},"color":{"field":"g","type":"nominal","legend":null}}},
{"data":{"name":"S"},"transform":[{"filter":"datum.k=='D'"}],"mark":{"type":"bar","width":{"band":0.42},"fillOpacity":0.55,"strokeWidth":0.9},"encoding":{"x":{"field":"g","type":"nominal"},"y":{"field":"q1","type":"quantitative"},"y2":{"field":"q3"},"color":{"field":"g","type":"nominal","legend":null},"stroke":{"field":"g","type":"nominal","legend":null,"scale":{"range":["#3AA8C6","#EE8B6D"]}}}},
{"transform":[{"window":[{"op":"row_number","as":"rn"}],"groupby":["g"]},{"calculate":"((datum.rn*0.618034)%1)-0.5","as":"j"}],"mark":{"type":"circle","size":9,"opacity":0.85},"encoding":{"x":{"field":"g","type":"nominal","scale":{"paddingInner":0,"paddingOuter":0.08},"axis":{"title":null,"labelExpr":"datum.value=='n'?'APOE ε4−':'APOE ε4+'"}},"xOffset":{"field":"j","type":"quantitative","scale":{"domain":[-1.7,1.7]}},"y":{"field":"v","type":"quantitative","scale":{"domain":[6,264],"nice":false,"zero":false},"axis":{"title":"CSF p−tau 181 (pg/mL)","values":[50,100,150,200,250],"tickCount":10,"labelOverlap":false,"format":"d","minExtent":17,"maxExtent":17}},"color":{"field":"g","type":"nominal","legend":null,"scale":{"domain":["n","p"],"range":["#4DBBD5","#F39B7F"]}}}},
{"data":{"name":"S"},"transform":[{"filter":"datum.k=='D'"}],"mark":{"type":"bar","width":{"band":0.42},"fillOpacity":0,"strokeWidth":1.2},"encoding":{"x":{"field":"g","type":"nominal"},"y":{"field":"med","type":"quantitative"},"y2":{"field":"med"},"stroke":{"field":"g","type":"nominal","legend":null}}},
{"data":{"name":"K"},"transform":[{"filter":"datum.k=='D'"}],"mark":{"type":"rule"},"encoding":{"x":{"datum":"n"},"x2":{"datum":"p"},"y":{"field":"b","type":"quantitative"}}},
{"data":{"name":"K"},"transform":[{"filter":"datum.k=='D'"}],"mark":{"type":"rule"},"encoding":{"x":{"field":"g","type":"nominal"},"y":{"field":"b","type":"quantitative"},"y2":{"field":"blo"}}},
{"data":{"name":"K"},"transform":[{"filter":"datum.k=='D'&&datum.g=='n'"}],"mark":{"type":"text","align":"center","baseline":"bottom","fontSize":9,"dy":1},"encoding":{"x":{"datum":"p","bandPosition":0},"y":{"field":"b","type":"quantitative"},"text":{"field":"t","type":"nominal"}}}
]},
{"width":147,"height":160,"title":"(E)","data":{"name":"E"},"layer":[
{"data":{"name":"S"},"transform":[{"filter":"datum.k=='E'"}],"mark":{"type":"rule","strokeWidth":0.9},"encoding":{"x":{"field":"g","type":"nominal"},"y":{"field":"lo","type":"quantitative"},"y2":{"field":"hi"},"color":{"field":"g","type":"nominal","legend":null}}},
{"data":{"name":"S"},"transform":[{"filter":"datum.k=='E'"}],"mark":{"type":"bar","width":{"band":0.42},"fillOpacity":0.55,"strokeWidth":0.9},"encoding":{"x":{"field":"g","type":"nominal"},"y":{"field":"q1","type":"quantitative"},"y2":{"field":"q3"},"color":{"field":"g","type":"nominal","legend":null},"stroke":{"field":"g","type":"nominal","legend":null,"scale":{"range":["#3AA8C6","#EE8B6D"]}}}},
{"transform":[{"window":[{"op":"row_number","as":"rn"}],"groupby":["g"]},{"calculate":"((datum.rn*0.618034)%1)-0.5","as":"j"}],"mark":{"type":"circle","size":9,"opacity":0.85},"encoding":{"x":{"field":"g","type":"nominal","scale":{"paddingInner":0,"paddingOuter":0.08},"axis":{"title":null,"labelExpr":"datum.value=='n'?'APOE ε4−':'APOE ε4+'"}},"xOffset":{"field":"j","type":"quantitative","scale":{"domain":[-1.7,1.7]}},"y":{"field":"v","type":"quantitative","scale":{"domain":[0.38,2.583],"nice":false,"zero":false},"axis":{"title":"Plasma HDL (mmol/L)","values":[0.5,1,1.5,2,2.5],"tickCount":10,"labelOverlap":false,"format":".1f","minExtent":15,"maxExtent":15}},"color":{"field":"g","type":"nominal","legend":null,"scale":{"domain":["n","p"],"range":["#4DBBD5","#F39B7F"]}}}},
{"data":{"name":"S"},"transform":[{"filter":"datum.k=='E'"}],"mark":{"type":"bar","width":{"band":0.42},"fillOpacity":0,"strokeWidth":1.2},"encoding":{"x":{"field":"g","type":"nominal"},"y":{"field":"med","type":"quantitative"},"y2":{"field":"med"},"stroke":{"field":"g","type":"nominal","legend":null}}},
{"data":{"name":"K"},"transform":[{"filter":"datum.k=='E'"}],"mark":{"type":"rule"},"encoding":{"x":{"datum":"n"},"x2":{"datum":"p"},"y":{"field":"b","type":"quantitative"}}},
{"data":{"name":"K"},"transform":[{"filter":"datum.k=='E'"}],"mark":{"type":"rule"},"encoding":{"x":{"field":"g","type":"nominal"},"y":{"field":"b","type":"quantitative"},"y2":{"field":"blo"}}},
{"data":{"name":"K"},"transform":[{"filter":"datum.k=='E'&&datum.g=='n'"}],"mark":{"type":"text","text":"p","fontStyle":"italic","align":"left","baseline":"bottom","dx":-17.9,"dy":-1.5},"encoding":{"x":{"datum":"p","bandPosition":0},"y":{"field":"b","type":"quantitative"}}},
{"data":{"name":"K"},"transform":[{"filter":"datum.k=='E'&&datum.g=='n'"}],"mark":{"type":"text","align":"left","baseline":"bottom","dx":-10.8,"dy":-1.5},"encoding":{"x":{"datum":"p","bandPosition":0},"y":{"field":"b","type":"quantitative"},"text":{"field":"t","type":"nominal"}}}
]},
{"width":153,"height":160,"title":"(F)","data":{"name":"F"},"layer":[
{"data":{"name":"S"},"transform":[{"filter":"datum.k=='F'"}],"mark":{"type":"rule","strokeWidth":0.9},"encoding":{"x":{"field":"g","type":"nominal"},"y":{"field":"lo","type":"quantitative"},"y2":{"field":"hi"},"color":{"field":"g","type":"nominal","legend":null}}},
{"data":{"name":"S"},"transform":[{"filter":"datum.k=='F'"}],"mark":{"type":"bar","width":{"band":0.42},"fillOpacity":0.55,"strokeWidth":0.9},"encoding":{"x":{"field":"g","type":"nominal"},"y":{"field":"q1","type":"quantitative"},"y2":{"field":"q3"},"color":{"field":"g","type":"nominal","legend":null},"stroke":{"field":"g","type":"nominal","legend":null,"scale":{"range":["#3AA8C6","#EE8B6D"]}}}},
{"transform":[{"window":[{"op":"row_number","as":"rn"}],"groupby":["g"]},{"calculate":"((datum.rn*0.618034)%1)-0.5","as":"j"}],"mark":{"type":"circle","size":9,"opacity":0.85},"encoding":{"x":{"field":"g","type":"nominal","scale":{"paddingInner":0,"paddingOuter":0.08},"axis":{"title":null,"labelExpr":"datum.value=='n'?'APOE ε4−':'APOE ε4+'"}},"xOffset":{"field":"j","type":"quantitative","scale":{"domain":[-1.7,1.7]}},"y":{"field":"v","type":"quantitative","scale":{"domain":[0.657,5.815],"nice":false,"zero":false},"axis":{"title":"Plasma LDL (mmol/L)","values":[1,2,3,4,5],"tickCount":10,"labelOverlap":false,"format":"d","minExtent":21,"maxExtent":21}},"color":{"field":"g","type":"nominal","legend":null,"scale":{"domain":["n","p"],"range":["#4DBBD5","#F39B7F"]}}}},
{"data":{"name":"S"},"transform":[{"filter":"datum.k=='F'"}],"mark":{"type":"bar","width":{"band":0.42},"fillOpacity":0,"strokeWidth":1.2},"encoding":{"x":{"field":"g","type":"nominal"},"y":{"field":"med","type":"quantitative"},"y2":{"field":"med"},"stroke":{"field":"g","type":"nominal","legend":null}}},
{"data":{"name":"K"},"transform":[{"filter":"datum.k=='F'"}],"mark":{"type":"rule"},"encoding":{"x":{"datum":"n"},"x2":{"datum":"p"},"y":{"field":"b","type":"quantitative"}}},
{"data":{"name":"K"},"transform":[{"filter":"datum.k=='F'"}],"mark":{"type":"rule"},"encoding":{"x":{"field":"g","type":"nominal"},"y":{"field":"b","type":"quantitative"},"y2":{"field":"blo"}}},
{"data":{"name":"K"},"transform":[{"filter":"datum.k=='F'&&datum.g=='n'"}],"mark":{"type":"text","align":"center","baseline":"bottom","fontSize":9,"dy":1},"encoding":{"x":{"datum":"p","bandPosition":0},"y":{"field":"b","type":"quantitative"},"text":{"field":"t","type":"nominal"}}}
]},
{"width":149,"height":160,"title":"(G)","data":{"name":"G"},"layer":[
{"data":{"name":"S"},"transform":[{"filter":"datum.k=='G'"}],"mark":{"type":"rule","strokeWidth":0.9},"encoding":{"x":{"field":"g","type":"nominal"},"y":{"field":"lo","type":"quantitative"},"y2":{"field":"hi"},"color":{"field":"g","type":"nominal","legend":null}}},
{"data":{"name":"S"},"transform":[{"filter":"datum.k=='G'"}],"mark":{"type":"bar","width":{"band":0.42},"fillOpacity":0.55,"strokeWidth":0.9},"encoding":{"x":{"field":"g","type":"nominal"},"y":{"field":"q1","type":"quantitative"},"y2":{"field":"q3"},"color":{"field":"g","type":"nominal","legend":null},"stroke":{"field":"g","type":"nominal","legend":null,"scale":{"range":["#3AA8C6","#EE8B6D"]}}}},
{"transform":[{"window":[{"op":"row_number","as":"rn"}],"groupby":["g"]},{"calculate":"((datum.rn*0.618034)%1)-0.5","as":"j"}],"mark":{"type":"circle","size":9,"opacity":0.85},"encoding":{"x":{"field":"g","type":"nominal","scale":{"paddingInner":0,"paddingOuter":0.08},"axis":{"title":null,"labelExpr":"datum.value=='n'?'APOE ε4−':'APOE ε4+'"}},"xOffset":{"field":"j","type":"quantitative","scale":{"domain":[-1.7,1.7]}},"y":{"field":"v","type":"quantitative","scale":{"domain":[0.12,4.97],"nice":false,"zero":false},"axis":{"title":"Plasma TG (mmol/L)","values":[1,2,3,4],"tickCount":10,"labelOverlap":false,"format":"d","minExtent":25,"maxExtent":25}},"color":{"field":"g","type":"nominal","legend":null,"scale":{"domain":["n","p"],"range":["#4DBBD5","#F39B7F"]}}}},
{"data":{"name":"S"},"transform":[{"filter":"datum.k=='G'"}],"mark":{"type":"bar","width":{"band":0.42},"fillOpacity":0,"strokeWidth":1.2},"encoding":{"x":{"field":"g","type":"nominal"},"y":{"field":"med","type":"quantitative"},"y2":{"field":"med"},"stroke":{"field":"g","type":"nominal","legend":null}}},
{"data":{"name":"K"},"transform":[{"filter":"datum.k=='G'"}],"mark":{"type":"rule"},"encoding":{"x":{"datum":"n"},"x2":{"datum":"p"},"y":{"field":"b","type":"quantitative"}}},
{"data":{"name":"K"},"transform":[{"filter":"datum.k=='G'"}],"mark":{"type":"rule"},"encoding":{"x":{"field":"g","type":"nominal"},"y":{"field":"b","type":"quantitative"},"y2":{"field":"blo"}}},
{"data":{"name":"K"},"transform":[{"filter":"datum.k=='G'&&datum.g=='n'"}],"mark":{"type":"text","text":"p","fontStyle":"italic","align":"left","baseline":"bottom","dx":-17.9,"dy":-1.5},"encoding":{"x":{"datum":"p","bandPosition":0},"y":{"field":"b","type":"quantitative"}}},
{"data":{"name":"K"},"transform":[{"filter":"datum.k=='G'&&datum.g=='n'"}],"mark":{"type":"text","align":"left","baseline":"bottom","dx":-10.8,"dy":-1.5},"encoding":{"x":{"datum":"p","bandPosition":0},"y":{"field":"b","type":"quantitative"},"text":{"field":"t","type":"nominal"}}}
]},
{"width":146,"height":160,"title":"(H)","data":{"name":"H"},"layer":[
{"data":{"name":"S"},"transform":[{"filter":"datum.k=='H'"}],"mark":{"type":"rule","strokeWidth":0.9},"encoding":{"x":{"field":"g","type":"nominal"},"y":{"field":"lo","type":"quantitative"},"y2":{"field":"hi"},"color":{"field":"g","type":"nominal","legend":null}}},
{"data":{"name":"S"},"transform":[{"filter":"datum.k=='H'"}],"mark":{"type":"bar","width":{"band":0.42},"fillOpacity":0.55,"strokeWidth":0.9},"encoding":{"x":{"field":"g","type":"nominal"},"y":{"field":"q1","type":"quantitative"},"y2":{"field":"q3"},"color":{"field":"g","type":"nominal","legend":null},"stroke":{"field":"g","type":"nominal","legend":null,"scale":{"range":["#3AA8C6","#EE8B6D"]}}}},
{"transform":[{"window":[{"op":"row_number","as":"rn"}],"groupby":["g"]},{"calculate":"((datum.rn*0.618034)%1)-0.5","as":"j"}],"mark":{"type":"circle","size":9,"opacity":0.85},"encoding":{"x":{"field":"g","type":"nominal","scale":{"paddingInner":0,"paddingOuter":0.08},"axis":{"title":null,"labelExpr":"datum.value=='n'?'APOE ε4−':'APOE ε4+'"}},"xOffset":{"field":"j","type":"quantitative","scale":{"domain":[-1.7,1.7]}},"y":{"field":"v","type":"quantitative","scale":{"domain":[61,604],"nice":false,"zero":false},"axis":{"title":"Plasma UA (μmol/L)","values":[100,200,300,400,500],"tickCount":10,"labelOverlap":false,"format":"d","minExtent":21,"maxExtent":21}},"color":{"field":"g","type":"nominal","legend":null,"scale":{"domain":["n","p"],"range":["#4DBBD5","#F39B7F"]}}}},
{"data":{"name":"S"},"transform":[{"filter":"datum.k=='H'"}],"mark":{"type":"bar","width":{"band":0.42},"fillOpacity":0,"strokeWidth":1.2},"encoding":{"x":{"field":"g","type":"nominal"},"y":{"field":"med","type":"quantitative"},"y2":{"field":"med"},"stroke":{"field":"g","type":"nominal","legend":null}}},
{"data":{"name":"K"},"transform":[{"filter":"datum.k=='H'"}],"mark":{"type":"rule"},"encoding":{"x":{"datum":"n"},"x2":{"datum":"p"},"y":{"field":"b","type":"quantitative"}}},
{"data":{"name":"K"},"transform":[{"filter":"datum.k=='H'"}],"mark":{"type":"rule"},"encoding":{"x":{"field":"g","type":"nominal"},"y":{"field":"b","type":"quantitative"},"y2":{"field":"blo"}}},
{"data":{"name":"K"},"transform":[{"filter":"datum.k=='H'&&datum.g=='n'"}],"mark":{"type":"text","text":"p","fontStyle":"italic","align":"left","baseline":"bottom","dx":-17.9,"dy":-1.5},"encoding":{"x":{"datum":"p","bandPosition":0},"y":{"field":"b","type":"quantitative"}}},
{"data":{"name":"K"},"transform":[{"filter":"datum.k=='H'&&datum.g=='n'"}],"mark":{"type":"text","align":"left","baseline":"bottom","dx":-10.8,"dy":-1.5},"encoding":{"x":{"datum":"p","bandPosition":0},"y":{"field":"b","type":"quantitative"},"text":{"field":"t","type":"nominal"}}}
]},
{"width":139,"height":160,"title":"(I)","data":{"name":"I"},"layer":[
{"data":{"name":"S"},"transform":[{"filter":"datum.k=='I'"}],"mark":{"type":"rule","strokeWidth":0.9},"encoding":{"x":{"field":"g","type":"nominal"},"y":{"field":"lo","type":"quantitative"},"y2":{"field":"hi"},"color":{"field":"g","type":"nominal","legend":null}}},
{"data":{"name":"S"},"transform":[{"filter":"datum.k=='I'"}],"mark":{"type":"bar","width":{"band":0.42},"fillOpacity":0.55,"strokeWidth":0.9},"encoding":{"x":{"field":"g","type":"nominal"},"y":{"field":"q1","type":"quantitative"},"y2":{"field":"q3"},"color":{"field":"g","type":"nominal","legend":null},"stroke":{"field":"g","type":"nominal","legend":null,"scale":{"range":["#3AA8C6","#EE8B6D"]}}}},
{"transform":[{"window":[{"op":"row_number","as":"rn"}],"groupby":["g"]},{"calculate":"((datum.rn*0.618034)%1)-0.5","as":"j"}],"mark":{"type":"circle","size":9,"opacity":0.85},"encoding":{"x":{"field":"g","type":"nominal","scale":{"paddingInner":0,"paddingOuter":0.08},"axis":{"title":null,"labelExpr":"datum.value=='n'?'APOE ε4−':'APOE ε4+'"}},"xOffset":{"field":"j","type":"quantitative","scale":{"domain":[-1.7,1.7]}},"y":{"field":"v","type":"quantitative","scale":{"domain":[0.145,5.905],"nice":false,"zero":false},"axis":{"title":"Serum IgA (g/L)","values":[1,2,3,4,5],"tickCount":10,"labelOverlap":false,"format":"d","minExtent":17,"maxExtent":17}},"color":{"field":"g","type":"nominal","legend":null,"scale":{"domain":["n","p"],"range":["#4DBBD5","#F39B7F"]}}}},
{"data":{"name":"S"},"transform":[{"filter":"datum.k=='I'"}],"mark":{"type":"bar","width":{"band":0.42},"fillOpacity":0,"strokeWidth":1.2},"encoding":{"x":{"field":"g","type":"nominal"},"y":{"field":"med","type":"quantitative"},"y2":{"field":"med"},"stroke":{"field":"g","type":"nominal","legend":null}}},
{"data":{"name":"K"},"transform":[{"filter":"datum.k=='I'"}],"mark":{"type":"rule"},"encoding":{"x":{"datum":"n"},"x2":{"datum":"p"},"y":{"field":"b","type":"quantitative"}}},
{"data":{"name":"K"},"transform":[{"filter":"datum.k=='I'"}],"mark":{"type":"rule"},"encoding":{"x":{"field":"g","type":"nominal"},"y":{"field":"b","type":"quantitative"},"y2":{"field":"blo"}}},
{"data":{"name":"K"},"transform":[{"filter":"datum.k=='I'&&datum.g=='n'"}],"mark":{"type":"text","text":"p","fontStyle":"italic","align":"left","baseline":"bottom","dx":-17.9,"dy":-1.5},"encoding":{"x":{"datum":"p","bandPosition":0},"y":{"field":"b","type":"quantitative"}}},
{"data":{"name":"K"},"transform":[{"filter":"datum.k=='I'&&datum.g=='n'"}],"mark":{"type":"text","align":"left","baseline":"bottom","dx":-10.8,"dy":-1.5},"encoding":{"x":{"datum":"p","bandPosition":0},"y":{"field":"b","type":"quantitative"},"text":{"field":"t","type":"nominal"}}}
]},
{"width":147,"height":160,"title":"(J)","data":{"name":"J"},"layer":[
{"data":{"name":"S"},"transform":[{"filter":"datum.k=='J'"}],"mark":{"type":"rule","strokeWidth":0.9},"encoding":{"x":{"field":"g","type":"nominal"},"y":{"field":"lo","type":"quantitative"},"y2":{"field":"hi"},"color":{"field":"g","type":"nominal","legend":null}}},
{"data":{"name":"S"},"transform":[{"filter":"datum.k=='J'"}],"mark":{"type":"bar","width":{"band":0.42},"fillOpacity":0.55,"strokeWidth":0.9},"encoding":{"x":{"field":"g","type":"nominal"},"y":{"field":"q1","type":"quantitative"},"y2":{"field":"q3"},"color":{"field":"g","type":"nominal","legend":null},"stroke":{"field":"g","type":"nominal","legend":null,"scale":{"range":["#3AA8C6","#EE8B6D"]}}}},
{"transform":[{"window":[{"op":"row_number","as":"rn"}],"groupby":["g"]},{"calculate":"((datum.rn*0.618034)%1)-0.5","as":"j"}],"mark":{"type":"circle","size":9,"opacity":0.85},"encoding":{"x":{"field":"g","type":"nominal","scale":{"paddingInner":0,"paddingOuter":0.08},"axis":{"title":null,"labelExpr":"datum.value=='n'?'APOE ε4−':'APOE ε4+'"}},"xOffset":{"field":"j","type":"quantitative","scale":{"domain":[-1.7,1.7]}},"y":{"field":"v","type":"quantitative","scale":{"domain":[0.438,1.339],"nice":false,"zero":false},"axis":{"title":"Serum C3 (g/L)","values":[0.6,0.8,1.0,1.2],"tickCount":10,"labelOverlap":false,"format":".1f","minExtent":15,"maxExtent":15}},"color":{"field":"g","type":"nominal","legend":null,"scale":{"domain":["n","p"],"range":["#4DBBD5","#F39B7F"]}}}},
{"data":{"name":"S"},"transform":[{"filter":"datum.k=='J'"}],"mark":{"type":"bar","width":{"band":0.42},"fillOpacity":0,"strokeWidth":1.2},"encoding":{"x":{"field":"g","type":"nominal"},"y":{"field":"med","type":"quantitative"},"y2":{"field":"med"},"stroke":{"field":"g","type":"nominal","legend":null}}},
{"data":{"name":"K"},"transform":[{"filter":"datum.k=='J'"}],"mark":{"type":"rule"},"encoding":{"x":{"datum":"n"},"x2":{"datum":"p"},"y":{"field":"b","type":"quantitative"}}},
{"data":{"name":"K"},"transform":[{"filter":"datum.k=='J'"}],"mark":{"type":"rule"},"encoding":{"x":{"field":"g","type":"nominal"},"y":{"field":"b","type":"quantitative"},"y2":{"field":"blo"}}},
{"data":{"name":"K"},"transform":[{"filter":"datum.k=='J'&&datum.g=='n'"}],"mark":{"type":"text","text":"p","fontStyle":"italic","align":"left","baseline":"bottom","dx":-17.9,"dy":-1.5},"encoding":{"x":{"datum":"p","bandPosition":0},"y":{"field":"b","type":"quantitative"}}},
{"data":{"name":"K"},"transform":[{"filter":"datum.k=='J'&&datum.g=='n'"}],"mark":{"type":"text","align":"left","baseline":"bottom","dx":-10.8,"dy":-1.5},"encoding":{"x":{"datum":"p","bandPosition":0},"y":{"field":"b","type":"quantitative"},"text":{"field":"t","type":"nominal"}}}
]}
],
"config":{
"font":"Liberation Sans",
"view":{"stroke":null},
"axis":{"domainColor":"#333333","domainWidth":0.9,"tickColor":"#333333","tickWidth":0.8,"tickSize":2.5,"labelFont":"Liberation Sans","labelFontSize":7.5,"labelColor":"#4d4d4d","labelPadding":2,"titleFont":"Liberation Sans","titleFontSize":11,"titleFontWeight":"normal","titleColor":"#222222","titlePadding":1,"grid":true,"gridColor":"#ebebeb","gridWidth":0.6},
"axisX":{"labelFontSize":10,"labelFontStyle":"italic","labelColor":"#222222","labelAngle":0,"labelPadding":1,"bandPosition":0.5},
"title":{"anchor":"start","frame":"bounds","font":"Liberation Sans","fontSize":12,"fontWeight":"bold","color":"#111111","offset":-8,"dx":-5},
"text":{"font":"Liberation Sans","fontSize":8.5,"color":"#333333"},
"rule":{"color":"#444444","strokeWidth":0.8}
}
}
